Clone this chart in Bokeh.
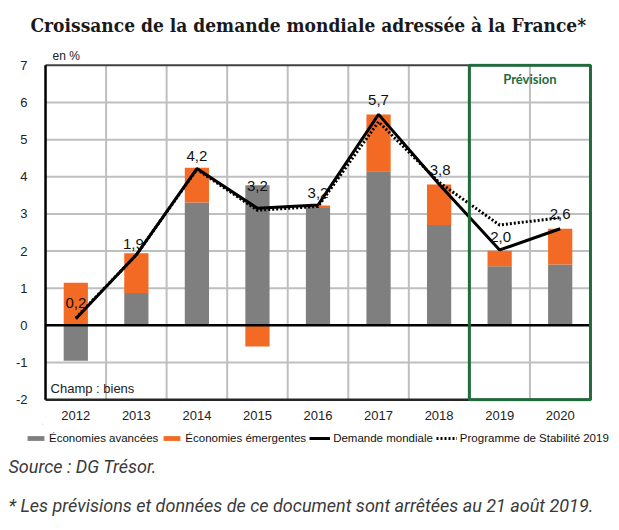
import numpy as np
from bokeh.plotting import figure
from bokeh.layouts import column
from bokeh.models import (Range1d, FixedTicker, ColumnDataSource, LabelSet, Label,
                          BoxAnnotation, Legend, LegendItem, Title)
from bokeh.core.properties import value
from bokeh.embed import file_html
from bokeh.resources import INLINE

# ---------------- data ----------------
years = [2012, 2013, 2014, 2015, 2016, 2017, 2018, 2019, 2020]
advanced = [-0.95, 0.87, 3.31, 3.77, 3.16, 4.15, 2.70, 1.59, 1.64]
emerging = [1.15, 1.07, 0.93, -0.57, 0.07, 1.53, 1.09, 0.42, 0.96]
demand = [0.18, 1.90, 4.22, 3.15, 3.24, 5.68, 3.80, 2.03, 2.60]
stability = [0.20, 1.90, 4.20, 3.10, 3.20, 5.48, 3.85, 2.70, 2.90]
demand_labels = ["0,2", "1,9", "4,2", "3,2", "3,2", "5,7", "3,8", "2,0", "2,6"]
y_ticks = [-2, -1, 0, 1, 2, 3, 4, 5, 6, 7]
forecast_years = [2019, 2020]
series_names = ["Économies avancées", "Économies émergentes", "Demande mondiale",
                "Programme de Stabilité 2019"]

title_text = "Croissance de la demande mondiale adressée à la France*"
unit_text = "en %"
scope_text = "Champ : biens"
forecast_text = "Prévision"
source_text = "Source : DG Trésor."
note_text = "* Les prévisions et données de ce document sont arrêtées au 21 août 2019."

# ---------------- styles ----------------
GRAY = "#7F7F7F"
ORANGE = "#F26A23"
GREEN = "#1F6B3B"
GRID = "#BFBFBF"
label_offsets = [11, 6, 8, 17, 7, 9, 9, 8, 10]
label_xoffsets = [0, -3, 0, 0, 0, 0, 1, 1, 0]
W = 611
LEFT = 42

yr = np.array(years, dtype=float)
adv = np.array(advanced)
em = np.array(emerging)
em_bottom = np.where(em >= 0, np.maximum(adv, 0), np.minimum(adv, 0))
em_top = em_bottom + em

x0 = yr[0] - 0.5
x1 = yr[-1] + 0.5
y0 = y_ticks[0]
y1 = y_ticks[-1]

p = figure(frame_width=551, frame_height=338,
           x_range=Range1d(x0 - 0.05, x1 + 0.05), y_range=Range1d(y0 - 0.05, y1 + 0.05),
           output_backend="svg", toolbar_location=None,
           min_border_left=LEFT, min_border_right=W - LEFT - 551, min_border_top=63, min_border_bottom=22)
p.outline_line_color = None
p.xgrid.visible = False
p.ygrid.visible = False
p.background_fill_color = "white"

# grid lines
hy = [t for t in y_ticks if t not in (y0, 0, y1)]
p.segment(x0=[x0] * len(hy), y0=hy, x1=[x1] * len(hy), y1=hy, line_color=GRID, line_width=2)
vx = list(yr[:-1] + 0.5)
p.segment(x0=vx, y0=[y0] * len(vx), x1=vx, y1=[y1] * len(vx), line_color=GRID, line_width=2)

src = ColumnDataSource(dict(x=yr, adv=adv, zero=np.zeros_like(adv), eb=em_bottom, et=em_top,
                            d=demand, s=stability, lab=demand_labels,
                            ly=demand, lo=label_offsets, lxo=label_xoffsets))

p.vbar(x="x", bottom="zero", top="adv", width=0.4, fill_color=GRAY, line_color=None, source=src)
p.vbar(x="x", bottom="eb", top="et", width=0.4, fill_color=ORANGE, line_color=None, source=src)

# frame lines
p.segment(x0=[x0], y0=[0], x1=[x1], y1=[0], line_color="black", line_width=2.5)
p.segment(x0=[x0], y0=[y1], x1=[x1], y1=[y1], line_color="#404040", line_width=2)
p.segment(x0=[x0], y0=[y0], x1=[x1], y1=[y0], line_color="#262626", line_width=2.5)
p.segment(x0=[x0], y0=[y0], x1=[x0], y1=[y1], line_color="black", line_width=2.5)

p.line(x="x", y="s", line_color="black", line_width=3, line_dash="2 2", source=src)
p.line(x="x", y="d", line_color="black", line_width=3, source=src)

labels = LabelSet(x="x", y="ly", text="lab", y_offset="lo", x_offset="lxo", source=src,
                  text_align="center", text_baseline="alphabetic",
                  text_font=value("Liberation Sans"), text_font_size=value("15px"), text_color="#111111")
p.add_layout(labels)

box = BoxAnnotation(left=forecast_years[0] - 0.5, right=forecast_years[-1] + 0.5,
                    bottom=y0, top=y1, fill_alpha=0, line_color=GREEN, line_alpha=1, line_width=3)
p.add_layout(box)
p.add_layout(Label(x=(forecast_years[0] + forecast_years[-1]) / 2, y=y1, y_offset=-14,
                   text=forecast_text, text_align="center", text_baseline="middle",
                   text_font="Lato", text_font_style="bold", text_font_size="13px",
                   text_color=GREEN))
p.add_layout(Label(x=x0, y=y0, x_offset=5, y_offset=4, text=scope_text,
                   text_align="left", text_baseline="bottom",
                   text_font="Liberation Sans", text_font_size="13px", text_color="#222222"))

# axes
p.xaxis.ticker = FixedTicker(ticks=years)
p.xaxis.major_label_overrides = {y: str(y) for y in years}
p.yaxis.ticker = FixedTicker(ticks=y_ticks)
p.yaxis.major_label_overrides = {t: str(t) for t in y_ticks}
for ax in (p.xaxis, p.yaxis):
    ax.axis_line_color = None
    ax.major_tick_line_color = None
    ax.minor_tick_line_color = None
    ax.major_label_text_font = "Liberation Sans"
    ax.major_label_text_font_size = "13px"
    ax.major_label_text_color = "#222222"
p.xaxis.major_label_standoff = 3
p.yaxis.major_label_standoff = 9

# titles above
p.add_layout(Title(text=unit_text, align="left", offset=10, standoff=2,
                   text_font="Liberation Sans", text_font_size="12px",
                   text_font_style="normal", text_color="#222222"), "above")
p.add_layout(Title(text=title_text, align="left", offset=-12, standoff=19,
                   text_font="DejaVu Serif Condensed", text_font_size="19px",
                   text_font_style="bold", text_color="#1a1a1a"), "above")

# ---------------- footer figure: legend + source ----------------
H2 = 28
f = figure(frame_width=W, frame_height=H2,
           x_range=Range1d(0, W), y_range=Range1d(H2, 0),
           x_axis_location=None, y_axis_location=None,
           output_backend="svg", toolbar_location=None,
           min_border_left=0, min_border_right=0, min_border_top=0, min_border_bottom=0)
f.grid.visible = False
f.outline_line_color = None

off = [-1000.0, -999.0]
g_adv = f.vbar(x=off[:1], top=[1], width=0.4, fill_color=GRAY, line_color=None)
g_em = f.vbar(x=off[:1], top=[1], width=0.4, fill_color=ORANGE, line_color=None)
g_d = f.line(x=off, y=[1, 1], line_color="black", line_width=3)
g_s = f.line(x=off, y=[1, 1], line_color="black", line_width=3, line_dash="2 2")

legend = Legend(items=[LegendItem(label=n, renderers=[r]) for n, r in
                       zip(series_names, [g_adv, g_em, g_d, g_s])],
                orientation="horizontal", location=(25, 7),
                glyph_width=21, glyph_height=6, label_height=13, label_standoff=3, spacing=3,
                padding=0, margin=0, border_line_color=None, background_fill_alpha=0,
                label_text_font="Liberation Sans", label_text_font_size="11.5px",
                label_text_color="#111111")
f.add_layout(legend)

# source and note as titles below the footer (titles are not clipped by the frame)
f.add_layout(Title(text=source_text, align="left", offset=8 - LEFT, standoff=4,
                   text_font="Roboto", text_font_style="italic", text_font_size="18px",
                   text_color="#3a3a3a"), "below")
f.add_layout(Title(text=note_text, align="left", offset=8 - LEFT, standoff=28,
                   text_font="Roboto", text_font_style="italic", text_font_size="18px",
                   text_color="#3a3a3a"), "below")

open("out.html", "w").write(file_html(column(p, f, spacing=0), INLINE))
